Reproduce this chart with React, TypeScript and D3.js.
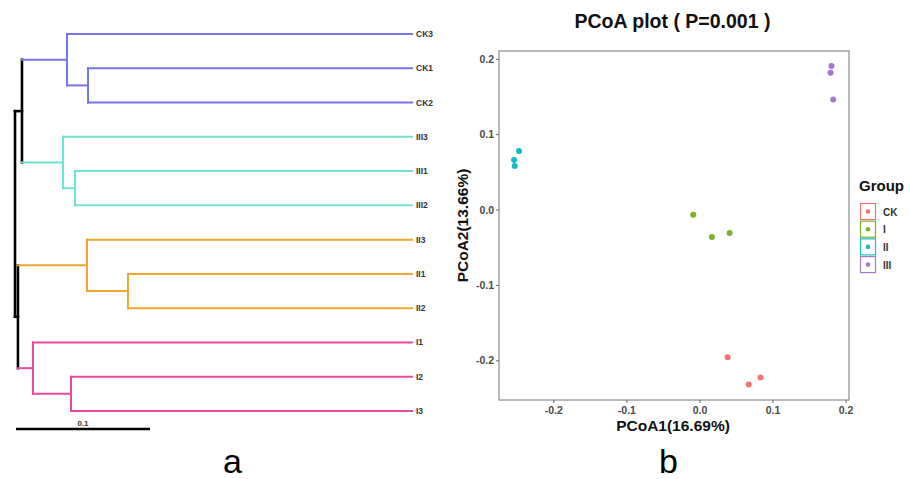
import React from "react";
import * as d3 from "d3";

// ---------- Dendrogram data ----------
const nodeNames = ["root","A","B","CK","CK12","III","III12","II","II12","I","I23","CK3","CK1","CK2","III3","III1","III2","II3","II1","II2","I1","I2","I3"];
const nodeParents = [null,"root","root","A","CK","A","III","B","II","B","I","CK","CK12","CK12","III","III12","III12","II","II12","II12","I","I23","I23"];
const branchLengths = [0,0.0052,0.0022,0.0336,0.0157,0.0306,0.009,0.0515,0.0306,0.0112,0.0284,0.2575,0.2418,0.2418,0.2604,0.2515,0.2515,0.2425,0.2119,0.2119,0.2828,0.2545,0.2545];
const leafOrder = ["CK3","CK1","CK2","III3","III1","III2","II3","II1","II2","I1","I2","I3"];
const cladeRoots = ["CK","III","II","I"];
const cladeColors = ["#7474EC","#6FE3D1","#EEA62E","#E8489F"];
const scaleBarValue = 0.1;

// ---------- PCoA data ----------
const groups = ["CK","I","II","III"];
const groupColors = ["#F3736C","#7AB02A","#17BCC4","#A678C9"];
const pcoa1 = [0.0379,0.0666,0.083,-0.0092,0.0164,0.0406,-0.2476,-0.2544,-0.2535,0.18,0.1788,0.1824];
const pcoa2 = [-0.1952,-0.2315,-0.2222,-0.0062,-0.0359,-0.0305,0.0784,0.0664,0.0584,0.191,0.1823,0.1465];
const pointGroup = ["CK","CK","CK","I","I","I","II","II","II","III","III","III"];
const xTicks = [-0.2,-0.1,0.0,0.1,0.2];
const yTicks = [-0.2,-0.1,0.0,0.1,0.2];

const FONT = "Liberation Sans, Arial, sans-serif";

function Dendrogram() {
  const xs = d3.scaleLinear().domain([0, 0.1]).range([15, 149]);
  const ys = d3.scalePoint<string>().domain(leafOrder).range([34, 411]);
  const idx = new Map(nodeNames.map((n, i) => [n, i]));
  const children = new Map<string, string[]>();
  nodeNames.forEach((n, i) => {
    const p = nodeParents[i];
    if (p) {
      if (!children.has(p)) children.set(p, []);
      children.get(p)!.push(n);
    }
  });
  const depth = new Map<string, number>();
  const getDepth = (n: string): number => {
    if (depth.has(n)) return depth.get(n)!;
    const i = idx.get(n)!;
    const p = nodeParents[i];
    const d = (p ? getDepth(p) : 0) + branchLengths[i];
    depth.set(n, d);
    return d;
  };
  const yPos = new Map<string, number>();
  const getY = (n: string): number => {
    if (yPos.has(n)) return yPos.get(n)!;
    const ch = children.get(n);
    const y = ch ? (d3.min(ch.map(getY))! + d3.max(ch.map(getY))!) / 2 : ys(n)!;
    yPos.set(n, y);
    return y;
  };
  const colorOf = (n: string): string => {
    let cur: string | null = n;
    while (cur) {
      const ci = cladeRoots.indexOf(cur);
      if (ci >= 0) return cladeColors[ci];
      cur = nodeParents[idx.get(cur)!];
    }
    return "#000";
  };
  const lines: JSX.Element[] = [];
  nodeNames.forEach((n, i) => {
    const p = nodeParents[i];
    const c = colorOf(n);
    const w = c === "#000" ? 2.6 : 2;
    if (p) {
      lines.push(<line key={"h" + n} x1={xs(getDepth(p))} x2={xs(getDepth(n))} y1={getY(n)} y2={getY(n)} stroke={c} strokeWidth={w} strokeLinecap="square" />);
    }
    const ch = children.get(n);
    if (ch) {
      const yy = ch.map(getY);
      lines.push(<line key={"v" + n} x1={xs(getDepth(n))} x2={xs(getDepth(n))} y1={d3.min(yy)!} y2={d3.max(yy)!} stroke={c} strokeWidth={w} strokeLinecap="square" />);
    }
  });
  return (
    <g>
      {lines}
      {leafOrder.map((l) => (
        <text key={l} x={416} y={getY(l) + 3} fontSize={8.5} fontFamily={FONT} fill="#333" fontWeight="bold">{l}</text>
      ))}
      <line x1={16} x2={16 + xs(scaleBarValue) - xs(0)} y1={429} y2={429} stroke="#000" strokeWidth={2.6} />
      <text x={83} y={426} fontSize={8} fontFamily={FONT} fill="#333" fontWeight="bold" textAnchor="middle">{String(scaleBarValue)}</text>
      <text x={232.5} y={473} fontSize={34} fontFamily={FONT} fill="#000" textAnchor="middle">a</text>
    </g>
  );
}

function PCoA() {
  const left = 499, right = 849, top = 51, bottom = 400;
  const x = d3.scaleLinear().domain([-0.275, 0.204]).range([left, right]);
  const y = d3.scaleLinear().domain([-0.252, 0.211]).range([bottom, top]);
  const color = d3.scaleOrdinal<string, string>().domain(groups).range(groupColors);
  const fmt = d3.format(".1f");
  const f = (v: number) => fmt(v).replace("−", "-");
  return (
    <g fontFamily={FONT}>
      <text x={672.5} y={28} textAnchor="middle" fontSize={19.5} fontWeight="bold" fill="#111">PCoA plot ( P=0.001 )</text>
      <rect x={left} y={top} width={right - left} height={bottom - top} fill="#fff" stroke="#8a8a8a" strokeWidth={1.2} />
      {xTicks.map((t) => (
        <g key={"x" + t}>
          <line x1={x(t)} x2={x(t)} y1={bottom} y2={bottom + 3} stroke="#666" />
          <text x={x(t)} y={bottom + 14} textAnchor="middle" fontSize={10.5} fontWeight="bold" fill="#4a4a4a">{f(t)}</text>
        </g>
      ))}
      {yTicks.map((t) => (
        <g key={"y" + t}>
          <line x1={left - 3} x2={left} y1={y(t)} y2={y(t)} stroke="#666" />
          <text x={left - 5} y={y(t) + 3.5} textAnchor="end" fontSize={10.5} fontWeight="bold" fill="#4a4a4a">{f(t)}</text>
        </g>
      ))}
      <text x={673} y={431} textAnchor="middle" fontSize={15.5} fontWeight="bold" fill="#111">PCoA1(16.69%)</text>
      <text transform={`translate(468,${(top + bottom) / 2}) rotate(-90)`} textAnchor="middle" fontSize={15.5} fontWeight="bold" fill="#111">PCoA2(13.66%)</text>
      {pcoa1.map((v, i) => (
        <circle key={"p" + i} cx={x(v)} cy={y(pcoa2[i])} r={3} fill={color(pointGroup[i])} />
      ))}
      <text x={859} y={191} fontSize={15} fontWeight="bold" fill="#111">Group</text>
      {groups.map((g, i) => (
        <g key={"lg" + g} transform={`translate(860,${203 + i * 17.7})`}>
          <rect x={0.5} y={0.5} width={15} height={16} fill="#fff" stroke={color(g)} strokeWidth={1.2} />
          <circle cx={8} cy={8.5} r={2.3} fill={color(g)} />
          <text x={23} y={12.5} fontSize={10} fontWeight="bold" fill="#333">{g}</text>
        </g>
      ))}
      <text x={668.5} y={473} fontSize={34} fill="#000" textAnchor="middle">b</text>
    </g>
  );
}

export default function App() {
  return (
    <svg width={910} height={479} style={{ position: "absolute", left: 0, top: 0, background: "#fff" }}>
      <rect width={910} height={479} fill="#fff" />
      <Dendrogram />
      <PCoA />
    </svg>
  );
}
